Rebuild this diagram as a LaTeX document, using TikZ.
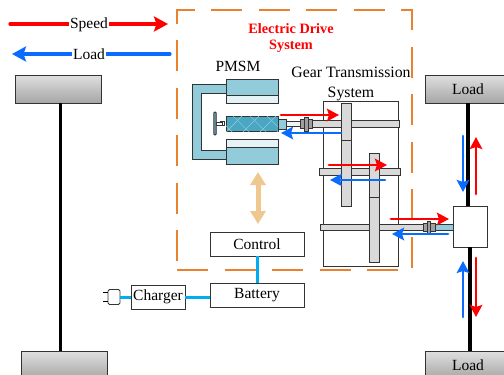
\documentclass[tikz,border=0pt]{standalone}
\usepackage{fontspec}
\setmainfont{Liberation Serif}
\usetikzlibrary{arrows.meta,patterns.meta}
\definecolor{statorblue}{HTML}{92CBDA}
\definecolor{statorpale}{HTML}{E6F3F6}
\definecolor{rotorblue}{HTML}{4AA7C2}
\definecolor{speedred}{HTML}{FF0000}
\definecolor{loadblue}{HTML}{0A6CFF}
\definecolor{wireblue}{HTML}{00AEEF}
\definecolor{dashorange}{HTML}{E8822E}
\definecolor{tanarrow}{HTML}{EFC88F}
\begin{document}
\begin{tikzpicture}[x=1pt, y=-1pt, every node/.style={font=\fontsize{15.5}{18}\selectfont, inner sep=0pt},
 part/.style={draw=black!80, line width=.8pt, minimum width=#1},
 box/.style={part=94pt, minimum height=24pt, line width=.9pt, fill=white},
 wheel/.style={part=86pt, minimum height=28pt, line width=.9pt, top color=gray!25, bottom color=gray!70},
 stator/.style={part=52pt, fill=statorblue},
 gearpart/.style={part=10pt, fill=gray!30, line width=1pt},
 shaft/.style={part=#1, minimum height=7pt, fill=gray!30, line width=1pt},
 coupler/.style={part=#1, fill=gray!75, line width=.7pt},
 speedflow/.style={-{Stealth[length=12pt, width=12.5pt, inset=2pt]}, line width=2.8pt, line cap=round, speedred},
 loadflow/.style={-{Stealth[length=12pt, width=12.5pt, inset=2pt]}, line width=2.8pt, line cap=round, loadblue},
 legendflow/.style={-{Stealth[length=14pt, width=15pt, inset=2.5pt]}, line width=3.3pt},
 axle/.style={line width=3.2pt, black},
 wire/.style={line width=3pt, wireblue}]
\useasboundingbox (0,0) rectangle (504,375);
% legend
\coordinate (speedA) at (10,24); \coordinate (speedB) at (168,24);
\coordinate (loadA) at (170,54); \coordinate (loadB) at (12,54);
\draw[speedflow, legendflow] (speedA)--(speedB); \draw[loadflow, legendflow] (loadA)--(loadB);
\node[fill=white, inner xsep=1pt] (speedtxt) at (89,25) {Speed};
\node[fill=white, inner xsep=1pt] (loadtxt) at (89,54) {Load};
% wheels and axles
\node[wheel] (wheelTL) at (58,89) {};
\node[wheel] (wheelBL) at (64,365) {};
\node[wheel] (wheelTR) at (468,89) {Load};
\node[wheel] (wheelBR) at (468,365) {Load};
\node[part=34pt, minimum height=41pt, fill=white, line width=.9pt] (diff) at (470,226.5) {};
\draw[axle] ([xshift=2.5pt]wheelTL.south)--([xshift=-3.5pt]wheelBL.north);
\draw[axle] (wheelTR.south)--(wheelTR.south|-diff.north);
\draw[axle] (diff.south)--(diff.south|-wheelBR.north);
% drive system frame
\draw[dashorange, line width=1.5pt, dash pattern=on 31pt off 16.5pt] (177,270)--(412,270)--(412,10)--(177,10)--cycle;
\node[speedred, font=\fontsize{14.3}{16.5}\selectfont\bfseries, align=center] (drivetxt) at (291,38) {Electric Drive\\System};
\node (pmsmtxt) at (238,66) {PMSM};
\node[align=center, font=\fontsize{15.8}{20}\selectfont] (geartxt) at (351,84) {Gear Transmission\\System};
% motor
\draw[draw=black!80, line width=.8pt, fill=statorblue] (226,84)--(192,84)--(192,159)--(226,159)--(226,150)--(201,150)--(201,93)--(226,93)--cycle;
\node[stator, minimum height=16pt] (statorA) at (252,87) {};
\node[stator, minimum height=8pt, fill=statorpale] (paleA) at (252,99) {};
\node[stator, minimum height=8pt, fill=statorpale] (paleB) at (252,143) {};
\node[stator, minimum height=17pt] (statorB) at (252,155.5) {};
\node[part=4pt, minimum height=4pt, fill=white] (stubL) at (222,123.5) {};
\node[part=6pt, minimum height=3pt, fill=white] (stubM) at (219,123.5) {};
\node[part=2.5pt, minimum height=23pt, fill=statorblue!70!black, rounded corners=1pt] (disk) at (215,123.5) {};
\node[stator, minimum height=15pt, fill=rotorblue, line width=1pt, postaction={pattern={Lines[angle=45, distance=12pt, line width=.5pt]}, pattern color=statorblue}, postaction={pattern={Lines[angle=-45, distance=12pt, line width=.5pt]}, pattern color=statorblue}] (rotor) at (252,123.5) {};
\node[part=8pt, minimum height=10pt, fill=statorblue] (stubR) at (282,124) {};
% gear box
\node[part=75pt, minimum height=165pt, fill=white] (gearbox) at (360.5,183.5) {};
\node[shaft=18pt, minimum height=5pt, fill=gray!10, line width=.7pt] (shaftM) at (295,124) {};
\node[shaft=88pt] (shaftA) at (355,123.5) {};
\node[shaft=81pt] (shaftB) at (359.5,171.5) {};
\node[shaft=103pt, minimum height=6pt] (shaftC) at (371.5,227) {};
\node[gearpart, minimum height=37pt] (gearA) at (346,121.5) {};
\node[gearpart, minimum height=66pt] (gearB) at (346,173) {};
\node[gearpart, minimum height=44pt] (gearC) at (374,175) {};
\node[gearpart, minimum height=65pt] (gearD) at (374,229.5) {};
\node[coupler=12pt, minimum height=9pt] (couplerA) at (306,124) {};
\node[coupler=4pt, minimum height=14pt] (boltA) at (306,124) {};
\node[part=18pt, minimum height=6pt, fill=statorblue] (stubD) at (444,227) {};
\node[coupler=12pt, minimum height=8pt] (couplerB) at (429,227) {};
\node[coupler=3pt, minimum height=12pt] (boltB) at (429,227) {};
% flows in the gears
\coordinate (sA) at (281,115); \coordinate (sB) at (339,115); \draw[speedflow] (sA)--(sB);
\coordinate (lA) at (341,133); \coordinate (lB) at (281,133); \draw[loadflow] (lA)--(lB);
\coordinate (sC) at (329,165); \coordinate (sD) at (387,165); \draw[speedflow] (sC)--(sD);
\coordinate (lC) at (385,180); \coordinate (lD) at (330,180); \draw[loadflow] (lC)--(lD);
\coordinate (sE) at (391,219); \coordinate (sF) at (449,219); \draw[speedflow] (sE)--(sF);
\coordinate (lE) at (448,234); \coordinate (lF) at (392,234); \draw[loadflow] (lE)--(lF);
\coordinate (lG) at (463,136); \coordinate (lH) at (463,192); \draw[loadflow] (lG)--(lH);
\coordinate (sG) at (476,194); \coordinate (sH) at (476,137); \draw[speedflow] (sG)--(sH);
\coordinate (lI) at (463,317); \coordinate (lJ) at (463,261); \draw[loadflow] (lI)--(lJ);
\coordinate (sI) at (476,258); \coordinate (sJ) at (476,317); \draw[speedflow] (sI)--(sJ);
% control side
\node[box] (control) at (257,244) {Control};
\node[box] (battery) at (257,295.5) {\raisebox{-3pt}{Battery}};
\node[part=54pt, minimum height=24pt, line width=.9pt, fill=white] (charger) at (158,297) {\raisebox{-2pt}{Charger}};
\node[part=12pt, minimum height=15pt, line width=.8pt, rounded corners=1.5pt] (plug) at (114,297) {};
\coordinate (prongA) at (103,292.5); \coordinate (prongB) at (103,301.5);
\draw[black, line width=.8pt] (prongA)--(prongA-|plug.west); \draw[black, line width=.8pt] (prongB)--(prongB-|plug.west);
\draw[wire] (control)--(battery);
\draw[wire] (plug.east)--(charger.west);
\draw[wire] (charger.east)--(charger.east-|battery.west);
\coordinate (tanA) at (258,172); \coordinate (tanB) at (258,224);
\draw[{Stealth[length=13pt, width=15pt, inset=0pt]}-{Stealth[length=13pt, width=15pt, inset=0pt]}, line width=5pt, tanarrow] (tanA)--(tanB);
\end{tikzpicture}
\end{document}
